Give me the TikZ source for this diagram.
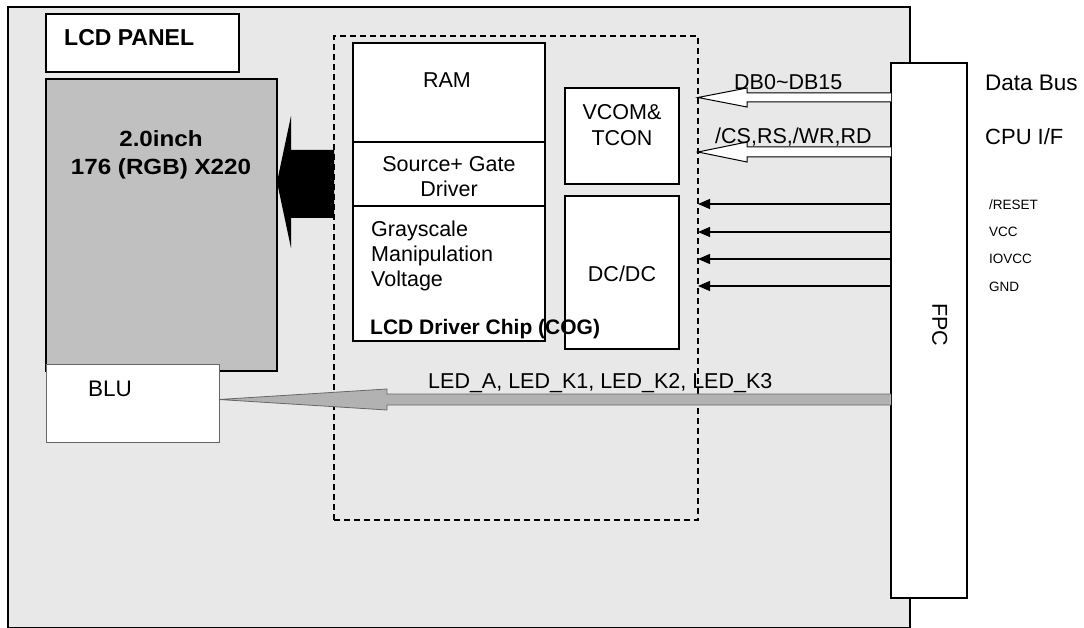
\documentclass[tikz,border=0pt]{standalone}
\usepackage{fontspec}
\setmainfont{Liberation Sans}
\usetikzlibrary{calc,arrows.meta}
\definecolor{panelbg}{HTML}{E8E8E8}
\definecolor{lcdgray}{HTML}{C0C0C0}
\definecolor{ledgray}{HTML}{B2B2B2}
\begin{document}
\begin{tikzpicture}[x=1pt,y=-1pt,
  box/.style={draw, fill=white, line width=1.5pt, inner sep=0pt, outer sep=0pt, anchor=north west},
  lbl/.style={inner sep=0pt, text height=15.4pt, text depth=0pt, font=\fontsize{21.5}{25}\selectfont},
  blbl/.style={lbl, font=\fontsize{21}{25}\selectfont\bfseries, text height=15pt},
  bigbold/.style={lbl, font=\fontsize{22}{27}\selectfont\bfseries, text height=15.8pt},
  small/.style={lbl, font=\fontsize{13.5}{16}\selectfont, text height=9.7pt},
  thinarrow/.style={line width=1.2pt, -{Triangle[length=12pt,width=10pt]}},
  hollow/.style={draw=black, fill=white, line width=1pt, line join=miter},
  ledarrow/.style={draw=black!60, fill=ledgray, line width=.8pt}
]
\useasboundingbox (0,0) rectangle (1084,628);
% outer panel
\node[box, fill=panelbg, line width=2pt, minimum width=902pt, minimum height=621pt] (panel) at (8,7) {};
% FPC
\node[box, line width=2pt, minimum width=76pt, minimum height=535pt] (fpc) at (891,63) {};
\node[lbl, rotate=-90] (fpctext) at (940,325) {FPC};
% LCD panel label box
\node[box, minimum width=193pt, minimum height=58pt] (lcdlbl) at (46,14) {};
\node[bigbold, anchor=west, font=\fontsize{23}{27}\selectfont\bfseries, text height=16.5pt] (lcdpaneltext) at (64,37) {LCD PANEL};
% LCD gray area
\node[box, fill=lcdgray, minimum width=231pt, minimum height=292pt] (lcd) at (46,79) {};
\node[bigbold] (inch) at (161,139) {\scalebox{1.1}[1]{2.0inch}};
\node[bigbold] (res) at (161,167) {\scalebox{1.1}[1]{176 (RGB) X220}};
% BLU
\node[box, draw=black!60, line width=1pt, minimum width=173pt, minimum height=78pt] (blu) at (46,364) {};
\node[lbl, anchor=west, font=\fontsize{22.5}{27}\selectfont, text height=16.1pt] (blutext) at (88,388) {BLU};
% dashed chip boundary
\node[draw, dash pattern=on 6pt off 4pt, line width=1.5pt, inner sep=0pt, outer sep=0pt, anchor=north west, minimum width=364pt, minimum height=484pt] (dash) at (334,36) {};
% main chip block
\node[box, minimum width=192pt, minimum height=298pt] (chip) at (353,43) {};
\draw[line width=2.5pt] (chip.west |- 0,142) -- (chip.east |- 0,142);
\draw[line width=1.2pt] (chip.west |- 0,206) -- (chip.east |- 0,206);
\node[lbl] (ram) at (447,80) {RAM};
\node[lbl] (src) at (449,164) {Source+ Gate};
\node[lbl] (drv) at (449,189) {Driver};
\node[lbl, anchor=west] (gray1) at (371,229) {Grayscale};
\node[lbl, anchor=west] (gray2) at (371,254) {Manipulation};
\node[lbl, anchor=west] (gray3) at (371,279) {Voltage};
% VCOM & DC/DC
\node[box, minimum width=114pt, minimum height=96pt] (vcom) at (565,88) {};
\node[lbl] (vcom1) at (622,112) {VCOM\&};
\node[lbl] (vcom2) at (622,138) {TCON};
\node[box, minimum width=114pt, minimum height=153pt] (dcdc) at (565,196) {};
\node[lbl] (dcdctext) at (622,274) {DC/DC};
\node[blbl, anchor=west] (cog) at (370,327) {LCD Driver Chip (COG)};
% big black arrow to LCD
\fill (dash.west |- 0,150) -- (291,150) -- (291,116) -- (lcd.east |- 0,182) -- (291,248) -- (291,218) -- (dash.west |- 0,218) -- cycle;
% hollow bus arrows
\draw[hollow] (fpc.west |- 0,93) -- (747,93) -- (747,88) -- (dash.east |- 0,97.5) -- (747,107) -- (747,102) -- (fpc.west |- 0,102);
\draw[hollow] (fpc.west |- 0,147) -- (747,147) -- (747,142) -- (dash.east |- 0,152) -- (747,162) -- (747,157) -- (fpc.west |- 0,157);
\node[lbl, anchor=west] (db) at (734,82) {DB0\textasciitilde DB15};
\node[lbl, anchor=west] (cs) at (715,136) {/CS,RS,/WR,RD};
\node[lbl, anchor=west, font=\fontsize{22.5}{27}\selectfont, text height=16.1pt] (databus) at (985,82) {Data Bus};
\node[lbl, anchor=west, font=\fontsize{22}{27}\selectfont, text height=15.8pt] (cpuif) at (985,137) {CPU I/F};
% control / power lines
\draw[thinarrow] (fpc.west |- 0,204) -- (dash.east |- 0,204);
\draw[thinarrow] (fpc.west |- 0,232) -- (dash.east |- 0,232);
\draw[thinarrow] (fpc.west |- 0,259) -- (dash.east |- 0,259);
\draw[thinarrow] (fpc.west |- 0,286) -- (dash.east |- 0,286);
\node[small, anchor=west] (reset) at (989,205) {/RESET};
\node[small, anchor=west] (vcc) at (989,232) {VCC};
\node[small, anchor=west] (iovcc) at (989,259) {IOVCC};
\node[small, anchor=west] (gnd) at (989,287) {GND};
% LED arrow to BLU
\draw[ledarrow] (fpc.west |- 0,394) -- (387,394) -- (387,389) -- (blu.east |- 0,399.5) -- (387,410) -- (387,405) -- (fpc.west |- 0,405);
\node[lbl, anchor=west] (led) at (428,381) {LED\_A, LED\_K1, LED\_K2, LED\_K3};
\end{tikzpicture}
\end{document}
